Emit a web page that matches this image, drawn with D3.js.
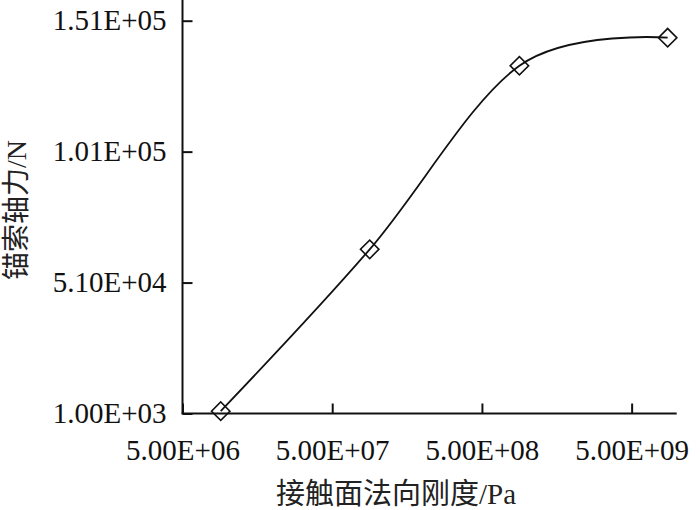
<!DOCTYPE html>
<html>
<head>
<meta charset="utf-8">
<script src="https://cdn.jsdelivr.net/npm/d3@7"></script>
<style>
body { margin: 0; background: #fff; }
svg text { font-family: "Liberation Serif", "Noto Sans CJK SC", serif; }
.axis text { font-size: 29px; fill: #111; }
.axis line { stroke: #111; stroke-width: 2; }
.line-graph { fill: none; stroke: #111; stroke-width: 1.8; }
.dot { fill: none; stroke: #111; stroke-width: 1.6; }
.title { font-size: 29px; fill: #222; }
</style>
</head>
<body>
<script>
const width = 700, height = 510;

// stiffness (Pa) and anchor axial force (N)
const stiffness = [9.0e6, 8.9e7, 8.9e8, 8.7e9];
const axialForce = [1900, 63700, 133800, 144500];

const xTicks = [5e6, 5e7, 5e8, 5e9];
const xTickLabels = ["5.00E+06", "5.00E+07", "5.00E+08", "5.00E+09"];
const yTicks = [1000, 51000, 101000, 151000];
const yTickLabels = ["1.00E+03", "5.10E+04", "1.01E+05", "1.51E+05"];

const plotLeft = 182.5, plotRight = 676.7, plotTop = 20.7, plotBottom = 413.5;

const svg = d3.select("body").append("svg")
.attr("width", width)
.attr("height", height);

const scaleX = d3.scaleLog()
.domain([5e6, 1e10])
.range([plotLeft, plotRight]);

const scaleY = d3.scaleLinear()
.domain([1000, 151000])
.range([plotBottom, plotTop]);

const axisX = d3.axisBottom(scaleX)
.tickValues(xTicks)
.tickSizeInner(-10)
.tickSizeOuter(0)
.tickPadding(26)
.tickFormat((d, i) => xTickLabels[i]);

const axisY = d3.axisLeft(scaleY)
.tickValues(yTicks)
.tickSizeInner(-10)
.tickSizeOuter(0)
.tickPadding(16)
.tickFormat((d, i) => yTickLabels[i]);

svg.append("g")
.attr("class", "axis axisX")
.attr("transform", `translate(0, ${plotBottom})`)
.call(axisX)
.call(g => g.select(".domain").remove());

svg.append("g")
.attr("class", "axis axisY")
.attr("transform", `translate(${plotLeft}, 0)`)
.call(axisY)
.call(g => g.select(".domain").remove());

svg.selectAll(".axis").attr("font-family", null).attr("font-size", null);

// axis lines (y axis runs to the top edge)
svg.append("line")
.attr("x1", plotLeft).attr("x2", plotLeft)
.attr("y1", 0).attr("y2", plotBottom)
.attr("stroke", "#111").attr("stroke-width", 2);

svg.append("line")
.attr("x1", plotLeft - 1).attr("x2", plotRight)
.attr("y1", plotBottom).attr("y2", plotBottom)
.attr("stroke", "#111").attr("stroke-width", 2);

const data = stiffness.map((s, i) => ({x: scaleX(s), y: scaleY(axialForce[i])}));

const line = d3.line()
.curve(d3.curveCardinal.tension(0))
.x((d) => d.x)
.y((d) => d.y);

svg.append("path")
.attr("class", "line-graph")
.attr("d", line(data));

const diamond = d3.symbol().type(d3.symbolSquare).size(170);

svg.selectAll(".dot")
.data(data)
.enter()
.append("path")
.attr("class", "dot")
.attr("d", diamond)
.attr("transform", (d) => `translate(${d.x}, ${d.y}) rotate(45)`);

svg.append("text")
.attr("class", "title")
.attr("x", 396)
.attr("y", 504)
.attr("text-anchor", "middle")
.text("接触面法向刚度/Pa");

svg.append("text")
.attr("class", "title")
.attr("transform", "translate(26, 210) rotate(-90)")
.attr("text-anchor", "middle")
.style("font-size", "28px")
.text("锚索轴力/N");
</script>
</body>
</html>
